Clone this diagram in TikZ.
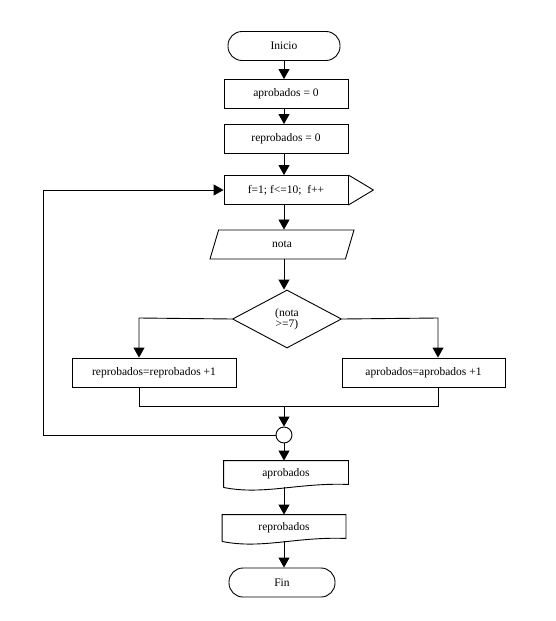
\documentclass[tikz,border=0pt]{standalone}
\usepackage{fontspec}
\setmainfont{Liberation Serif}
\usetikzlibrary{shapes.geometric,arrows.meta}

\begin{document}
\begin{tikzpicture}[x=1pt,y=-1pt,line width=0.9pt,font=\fontsize{11.5}{13}\selectfont]
\tikzstyle{flecha}=[-{Triangle[length=10pt,width=11pt]}]
\tikzstyle{caja}=[draw,rectangle,minimum height=29pt,inner sep=1pt]
\tikzstyle{terminal}=[draw,rectangle,rounded corners=14pt,minimum height=29pt,inner sep=1pt]
\tikzstyle{documento}=[rectangle,minimum height=26pt,inner sep=1pt]
\useasboundingbox (0,0) rectangle (556,621);
    \node[terminal,minimum width=112pt] (inicio) at (284,46) {Inicio};
    \node[caja,minimum width=124pt] (apr0) at (286,94) {aprobados = 0};
    \node[caja,minimum width=124pt] (rep0) at (286,139) {reprobados = 0};
    \node[caja,minimum width=124pt] (para) at (286,190) {f=1; f<=10;\ \ f++};
    \node[draw,trapezium,trapezium left angle=45,trapezium right angle=135,
        trapezium stretches body,minimum width=144pt,minimum height=29pt,inner sep=1pt] (nota) at (282,244.5) {nota};
    \node[draw,diamond,aspect=1.88,minimum width=109pt,minimum height=58pt,inner sep=0pt,align=center] (cond) at (287,319) {(nota\\[-2pt]>=7)};
    \node[caja,minimum width=164pt] (repinc) at (154,372.5) {reprobados=reprobados +1};
    \node[caja,minimum width=163pt] (aprinc) at (423.5,372.5) {aprobados=aprobados +1};
    \node[draw,circle,minimum size=16pt,inner sep=0pt] (conn) at (284,435) {};
    \node[documento,minimum width=124pt] (outa) at (286,474) {aprobados};
    \node[documento,minimum width=123pt] (outr) at (284,528) {reprobados};
    \node[terminal,minimum width=106pt] (fin) at (282,582.5) {Fin};
    \coordinate (izq) at (139,318);
    \coordinate (der) at (438,318);
    \coordinate (union) at (284,406);
    \coordinate (vuelta) at (43,435);
    \draw ([xshift=25pt]para.east) -- (para.north east);
    \draw ([xshift=25pt]para.east) -- (para.south east);
    \foreach \d in {outa,outr}
        \draw (\d.south west) -- (\d.north west) -- (\d.north east) -- ([yshift=3pt]\d.south east)
            .. controls ([xshift=-50pt,yshift=5pt]\d.south east) and ([xshift=40pt,yshift=-8pt]\d.south west) .. (\d.south west);
    \draw[flecha] (inicio.south -| 284,0) -- (apr0.north -| 284,0);
    \draw[flecha] (apr0.south -| 284,0) -- (rep0.north -| 284,0);
    \draw[flecha] (rep0.south -| 284,0) -- (para.north -| 284,0);
    \draw[flecha] (para.south -| 284,0) -- (nota.north -| 284,0);
    \draw[flecha] (nota.south -| 284,0) -- (cond.north -| 284,0);
    \draw[flecha] (cond.west) -- (izq) -- (izq |- repinc.north);
    \draw[flecha] (cond.east) -- (der) -- (der |- aprinc.north);
    \draw (izq |- repinc.south) -- (izq |- union) -- (der |- union) -- (der |- aprinc.south);
    \draw[flecha] (union) -- (conn.north);
    \draw[flecha] (conn.west) -- (vuelta) -- (vuelta |- para.west) -- (para.west);
    \draw[flecha] (conn.south) -- (outa.north -| conn.south);
    \draw[flecha] (outa.south -| conn.south) -- (outr.north -| conn.south);
    \draw[flecha] (outr.south -| conn.south) -- (fin.north -| conn.south);
\end{tikzpicture}
\end{document}
